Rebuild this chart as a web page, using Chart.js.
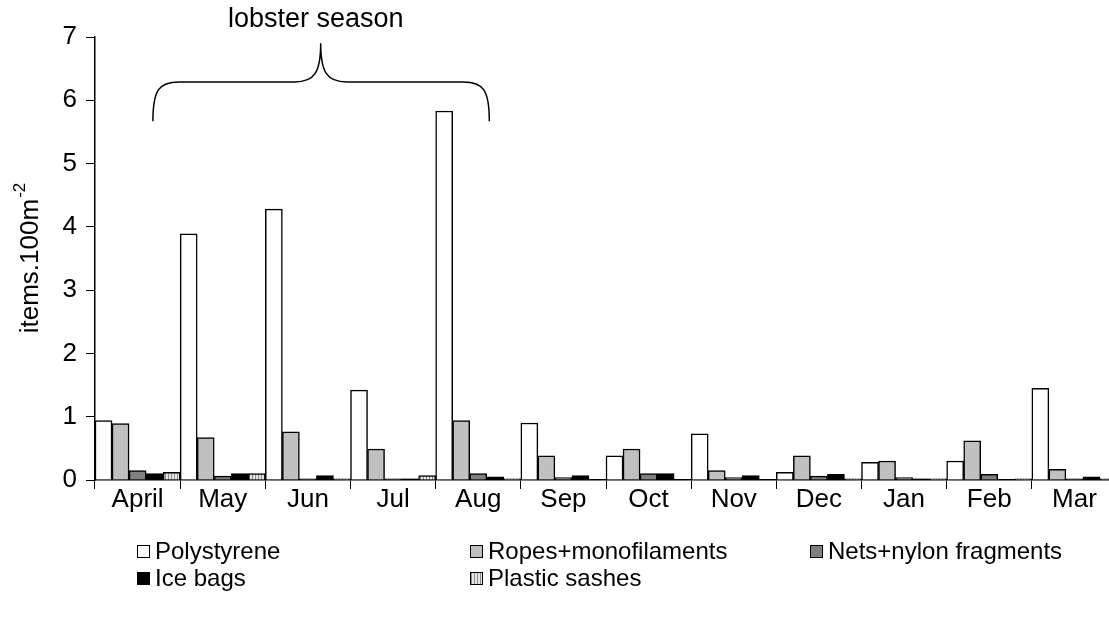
<!DOCTYPE html>
<html>
<head>
<meta charset="utf-8">
<script src="https://cdn.jsdelivr.net/npm/chart.js@4"></script>
<style>
    html, body { margin: 0; padding: 0; background: #fff; overflow: hidden; }
    #wrap { width: 1125px; height: 629px; }
</style>
</head>
<body>
<div id="wrap"><canvas id="chart" width="1125" height="629"></canvas></div>
<script>
// Monthly litter densities (items per 100 m2)
const months = ['April', 'May', 'Jun', 'Jul', 'Aug', 'Sep', 'Oct', 'Nov', 'Dec', 'Jan', 'Feb', 'Mar'];
const seriesNames = ['Polystyrene', 'Ropes+monofilaments', 'Nets+nylon fragments', 'Ice bags', 'Plastic sashes'];

const polystyrene = [0.94, 3.89, 4.28, 1.42, 5.83, 0.90, 0.38, 0.73, 0.12, 0.28, 0.30, 1.45];
const ropes       = [0.89, 0.67, 0.76, 0.49, 0.94, 0.38, 0.49, 0.15, 0.38, 0.30, 0.62, 0.17];
const nets        = [0.15, 0.06, 0.02, 0.02, 0.10, 0.04, 0.10, 0.04, 0.06, 0.04, 0.09, 0.02];
const iceBags     = [0.10, 0.10, 0.07, 0.02, 0.05, 0.07, 0.10, 0.07, 0.09, 0.02, 0.00, 0.05];
const sashes      = [0.12, 0.10, 0.02, 0.07, 0.02, 0.00, 0.00, 0.00, 0.02, 0.02, 0.02, 0.02];

const yTicks = [0, 1, 2, 3, 4, 5, 6, 7];

// Brace annotation over the lobster season (category index / y value)
const seasonLabel = 'lobster season';
const brace = { from: 0.18, to: 4.13, tip: 2.15, low: 5.67, mid: 6.29, high: 6.9, text: 7.27 };

const FONT = "'Liberation Sans', Arial, sans-serif";

// vertical stripe pattern for plastic sashes
function stripePattern() {
    const c = document.createElement('canvas');
    c.width = 3; c.height = 4;
    const g = c.getContext('2d');
    g.fillStyle = '#e6e6e6';
    g.fillRect(0, 0, 3, 4);
    g.fillStyle = '#8c8c8c';
    g.fillRect(0, 0, 1, 4);
    return g.createPattern(c, 'repeat');
}

const fills = ['#ffffff', '#c0c0c0', '#808080', '#000000', stripePattern()];
const values = [polystyrene, ropes, nets, iceBags, sashes];

// y title with superscript, brace, and the legend grid
const extrasPlugin = {
    id: 'extras',
    afterDraw(chart) {
        const ctx = chart.ctx;
        const x = chart.scales.x;
        const y = chart.scales.y;
        const unit = x.getPixelForValue(1) - x.getPixelForValue(0);
        const px = v => x.getPixelForValue(0) + v * unit;

        ctx.save();
        ctx.fillStyle = '#000';

        // y axis title
        ctx.save();
        ctx.translate(38, (y.top + y.bottom) / 2);
        ctx.rotate(-Math.PI / 2);
        ctx.font = `26px ${FONT}`;
        ctx.textBaseline = 'alphabetic';
        const main = 'items.100m';
        const w1 = ctx.measureText(main).width;
        ctx.font = `17px ${FONT}`;
        const w2 = ctx.measureText('-2').width;
        const start = -(w1 + w2) / 2;
        ctx.font = `26px ${FONT}`;
        ctx.textAlign = 'left';
        ctx.fillText(main, start, 0);
        ctx.font = `17px ${FONT}`;
        ctx.fillText('-2', start + w1 + 1, -13);
        ctx.restore();

        // brace
        const x0 = px(brace.from), x1 = px(brace.to), xt = px(brace.tip);
        const yl = y.getPixelForValue(brace.low);
        const ym = y.getPixelForValue(brace.mid);
        const yh = y.getPixelForValue(brace.high);
        const r = 26;
        ctx.strokeStyle = '#000';
        ctx.lineWidth = 1.5;
        ctx.beginPath();
        ctx.moveTo(x0, yl);
        ctx.bezierCurveTo(x0, ym + 8, x0 + 6, ym, x0 + r, ym);
        ctx.lineTo(xt - r, ym);
        ctx.bezierCurveTo(xt - 6, ym, xt, ym - 10, xt, yh);
        ctx.bezierCurveTo(xt, ym - 10, xt + 6, ym, xt + r, ym);
        ctx.lineTo(x1 - r, ym);
        ctx.bezierCurveTo(x1 - 6, ym, x1, ym + 8, x1, yl);
        ctx.stroke();

        ctx.font = `27px ${FONT}`;
        ctx.textAlign = 'center';
        ctx.textBaseline = 'middle';
        ctx.fillText(seasonLabel, xt - 5, y.getPixelForValue(brace.text));

        // legend
        const cols = [137, 470, 810];
        const rows = [551, 578];
        ctx.font = `24px ${FONT}`;
        ctx.textAlign = 'left';
        seriesNames.forEach((name, i) => {
            const bx = cols[i % 3];
            const by = rows[Math.floor(i / 3)];
            ctx.fillStyle = fills[i];
            ctx.fillRect(bx, by - 6, 13, 13);
            ctx.strokeStyle = '#000';
            ctx.lineWidth = 1;
            ctx.strokeRect(bx + 0.5, by - 5.5, 12, 12);
            ctx.fillStyle = '#000';
            ctx.fillText(name, bx + 18, by + 1);
        });
        ctx.restore();
    }
};

new Chart(document.getElementById('chart'), {
    type: 'bar',
    data: {
        labels: months,
        datasets: seriesNames.map((name, i) => ({
            label: name,
            data: values[i],
            backgroundColor: fills[i],
            borderColor: '#000',
            borderWidth: 1.5,
            barPercentage: 1,
            categoryPercentage: 1,
        }))
    },
    options: {
        responsive: false,
        animation: false,
        layout: { padding: { top: 37, right: 8, bottom: 99, left: 0 } },
        plugins: {
            legend: { display: false },
            tooltip: { enabled: false },
        },
        scales: {
            x: {
                offset: true,
                afterFit(scale) { scale.height = 50; },
                grid: {
                    offset: true,
                    drawOnChartArea: false,
                    drawTicks: true,
                    tickLength: 9,
                    color: '#000',
                },
                border: { color: '#000', width: 1.5 },
                ticks: {
                    color: '#000',
                    font: { family: FONT, size: 26 },
                    padding: -5,
                    maxRotation: 0,
                },
            },
            y: {
                min: 0,
                max: 7,
                afterFit(scale) { scale.width = 95; },
                afterBuildTicks(scale) { scale.ticks = yTicks.map(v => ({ value: v })); },
                grid: {
                    drawOnChartArea: false,
                    drawTicks: true,
                    tickLength: 9,
                    color: '#000',
                },
                border: { color: '#000', width: 1.5 },
                ticks: {
                    color: '#000',
                    font: { family: FONT, size: 26 },
                    padding: 9,
                },
            }
        }
    },
    plugins: [extrasPlugin]
});
</script>
</body>
</html>
